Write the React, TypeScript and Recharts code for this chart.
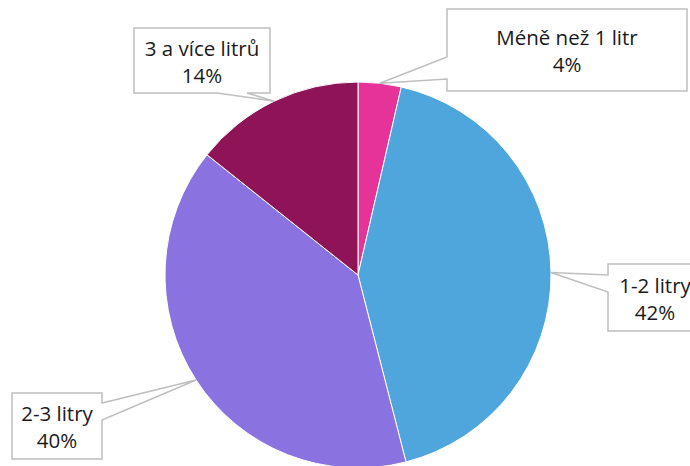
import { Cell, Pie, PieChart } from "recharts";

const categories = ["Méně než 1 litr", "1-2 litry", "2-3 litry", "3 a více litrů"];
const shares = [3.6, 42.4, 39.7, 14.3];
const colors = ["#E6339A", "#4FA6DC", "#8A73E0", "#8E1457"];

// callout boxes (Excel-style) with the side the pointer leaves from
const callouts = [
  { x: 447, y: 9, w: 240, h: 82, side: "left", a: 57, b: 79 },
  { x: 608, y: 264, w: 94, h: 67, side: "left", a: 275, b: 292 },
  { x: 12, y: 393, w: 90, h: 66, side: "right", a: 403, b: 420 },
  { x: 134, y: 28, w: 136, h: 65, side: "bottom", a: 217, b: 247 },
];

const data = categories.map((name, i) => ({ name, value: shares[i] }));

const RAD = Math.PI / 180;

function calloutPath(c: (typeof callouts)[number], tx: number, ty: number) {
  const r = c.x + c.w;
  const btm = c.y + c.h;
  let pts: number[][];
  if (c.side === "left") {
    pts = [[c.x, c.y], [r, c.y], [r, btm], [c.x, btm], [c.x, c.b], [tx, ty], [c.x, c.a]];
  } else if (c.side === "right") {
    pts = [[c.x, c.y], [r, c.y], [r, c.a], [tx, ty], [r, c.b], [r, btm], [c.x, btm]];
  } else {
    pts = [[c.x, c.y], [r, c.y], [r, btm], [c.b, btm], [tx, ty], [c.a, btm], [c.x, btm]];
  }
  return "M" + pts.map((p) => p.join(",")).join(" L") + " Z";
}

function renderLabel(props: any) {
  const { cx, cy, outerRadius, midAngle, index, value, name } = props;
  const c = callouts[index];
  const tx = cx + outerRadius * Math.cos(-midAngle * RAD);
  const ty = cy + outerRadius * Math.sin(-midAngle * RAD);
  const mx = c.x + c.w / 2;
  const my = c.y + c.h / 2;
  return (
    <g key={`lbl-${index}`}>
      <path d={calloutPath(c, tx, ty)} fill="#fff" stroke="#BFBFBF" strokeWidth={1.5} />
      <text x={mx} y={my - 13} textAnchor="middle" dominantBaseline="central" fontSize={20.5} fill="#1a1a1a">
        {name}
      </text>
      <text x={mx} y={my + 14} textAnchor="middle" dominantBaseline="central" fontSize={20.5} fill="#1a1a1a">
        {`${Math.round(value)}%`}
      </text>
    </g>
  );
}

export default function App() {
  return (
    <div style={{ position: "absolute", left: 0, top: 0, background: "#fff", fontFamily: "'Open Sans', Lato, sans-serif" }}>
      <PieChart width={690} height={466} margin={{ top: 0, right: 0, bottom: 0, left: 0 }}>
        <Pie
          data={data}
          dataKey="value"
          nameKey="name"
          cx={358}
          cy={275}
          outerRadius={193}
          startAngle={90}
          endAngle={-270}
          stroke="#fff"
          strokeWidth={1}
          label={renderLabel}
          labelLine={false}
          isAnimationActive={false}
        >
          {data.map((d, i) => (
            <Cell key={d.name} fill={colors[i]} />
          ))}
        </Pie>
      </PieChart>
    </div>
  );
}
